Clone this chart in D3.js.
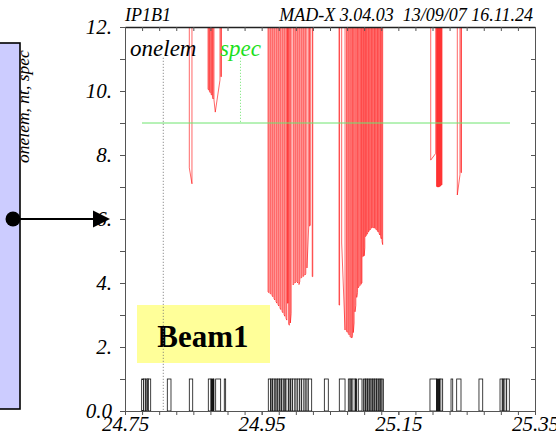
<!DOCTYPE html>
<html>
<head>
<meta charset="utf-8">
<script src="https://cdn.jsdelivr.net/npm/d3@7/dist/d3.min.js"></script>
<style>
  body { margin: 0; background: #fff; }
  svg { display: block; }
  text { font-family: 'Liberation Serif', 'Times New Roman', serif; }
</style>
</head>
<body>
<svg id="chart"></svg>
<script>
// axis setup
const sDomain = [24.75, 25.35];
const vDomain = [0, 12];
const xLabelValues = [24.75, 24.95, 25.15, 25.35];
const xLabelText = ['24.75', '24.95', '25.15', '25.35'];
const xMinorTicks = d3.range(0, 25).map(i => 24.75 + i * 0.025);
const yLabelValues = [0, 2, 4, 6, 8, 10, 12];
const yLabelText = ['0.0', '2.', '4.', '6.', '8.', '10.', '12.'];
const yMinorTicks = [0, 1, 2, 3, 4, 5, 6, 7, 8, 9, 10, 11, 12];

// onelem: element boxes [s start, s end, type]
const onelem = [
  [24.7744, 24.7771, 'w'], [24.7771, 24.7797, 'w'], [24.7797, 24.7826, 'g'],
  [24.7826, 24.7841, 'l'], [24.7841, 24.7876, 'w'],
  [24.8119, 24.8173, 'w'],
  [24.8441, 24.8491, 'w'],
  [24.8719, 24.8759, 'w'], [24.8759, 24.8792, 'k'], [24.8792, 24.8802, 'w'],
  [24.8827, 24.8900, 'w'],
  [24.8953, 24.8973, 'w'],
  [24.9597, 24.9632, 'w'], [24.9632, 24.9661, 'g'], [24.9661, 24.9695, 'l'],
  [24.9695, 24.9729, 'g'], [24.9729, 24.9758, 'l'], [24.9758, 24.9793, 'g'],
  [24.9793, 24.9827, 'l'], [24.9827, 24.9856, 'g'], [24.9856, 24.9890, 'w'],
  [24.9890, 24.9925, 'g'], [24.9925, 24.9954, 'l'], [24.9954, 24.9988, 'w'],
  [24.9988, 25.0021, 'l'], [25.0021, 25.0051, 'w'], [25.0051, 25.0086, 'l'],
  [25.0086, 25.0120, 'w'], [25.0120, 25.0149, 'w'], [25.0149, 25.0182, 'l'],
  [25.0182, 25.0232, 'w'],
  [25.0417, 25.0475, 'w'],
  [25.0636, 25.0720, 'w'],
  [25.0768, 25.0793, 'w'], [25.0793, 25.0822, 'g'], [25.0822, 25.0870, 'l'],
  [25.0870, 25.0891, 'k'], [25.0914, 25.0968, 'w'],
  [25.0987, 25.1022, 'g'], [25.1022, 25.1052, 'g'], [25.1052, 25.1085, 'g'],
  [25.1085, 25.1119, 'g'], [25.1119, 25.1148, 'g'], [25.1148, 25.1183, 'g'],
  [25.1183, 25.1217, 'g'], [25.1217, 25.1246, 'g'], [25.1246, 25.1280, 'g'],
  [25.1963, 25.2061, 'w'], [25.2061, 25.2110, 'k'], [25.2110, 25.2149, 'l'],
  [25.2271, 25.2296, 'w'],
  [25.2354, 25.2417, 'w'],
  [25.2680, 25.2735, 'w'],
  [25.2988, 25.3021, 'w'], [25.3021, 25.3046, 'g'], [25.3046, 25.3086, 'l'],
  [25.3086, 25.3124, 'w']
];

// nt: sections where the value drops below the top of the plot
// each row is s0, v0, s1, v1 (, s2, v2); between rows the value is off scale
const ntDrops = [
  [24.8441, 7.6, 24.8480, 7.1],
  [24.8715, 10.05, 24.8725, 10.03],
  [24.8737, 9.98, 24.8747, 9.95],
  [24.8759, 9.9, 24.8769, 9.87],
  [24.8780, 9.8, 24.8790, 9.75],
  [24.8802, 9.72, 24.8821, 9.34, 24.8890, 10.34],
  [24.8902, 10.45, 24.8912, 10.45],
  [24.9593, 3.72, 24.9605, 3.70],
  [24.9622, 3.68, 24.9634, 3.65],
  [24.9651, 3.62, 24.9663, 3.57],
  [24.9680, 3.52, 24.9692, 3.47],
  [24.9710, 3.42, 24.9722, 3.37],
  [24.9739, 3.33, 24.9751, 3.28],
  [24.9768, 3.22, 24.9780, 3.17],
  [24.9798, 3.12, 24.9810, 3.07],
  [24.9827, 3.02, 24.9839, 2.96],
  [24.9856, 2.90, 24.9868, 2.84],
  [24.9878, 3.37, 24.9886, 3.37],
  [24.9895, 2.72, 24.9905, 2.68],
  [24.9920, 2.75, 24.9932, 3.05],
  [24.9959, 3.94, 24.9971, 3.97],
  [24.9988, 4.00, 25.0000, 4.04],
  [25.0017, 4.04, 25.0029, 4.00],
  [25.0046, 3.95, 25.0058, 4.05],
  [25.0076, 4.15, 25.0088, 4.18],
  [25.0105, 4.20, 25.0117, 4.22],
  [25.0134, 4.25, 25.0146, 4.30],
  [25.0163, 4.47, 25.0188, 5.75],
  [25.0200, 5.78, 25.0212, 5.80],
  [25.0240, 4.20, 25.0248, 4.20],
  [25.0632, 3.31, 25.0640, 3.31],
  [25.0671, 5.25, 25.0720, 2.53],
  [25.0741, 2.50, 25.0753, 2.46],
  [25.0768, 2.42, 25.0780, 2.38],
  [25.0793, 2.33, 25.0805, 2.30],
  [25.0818, 2.28, 25.0830, 2.35],
  [25.0841, 2.45, 25.0853, 2.75],
  [25.0866, 3.10, 25.0878, 3.30],
  [25.0891, 3.55, 25.0903, 3.70],
  [25.0914, 3.85, 25.0926, 3.90],
  [25.0939, 3.92, 25.0951, 3.95],
  [25.0958, 3.98, 25.0968, 4.00],
  [25.0979, 4.82, 25.0991, 4.84],
  [25.1000, 4.85, 25.1010, 5.10],
  [25.1020, 5.45, 25.1032, 5.48],
  [25.1041, 5.52, 25.1053, 5.56],
  [25.1063, 5.60, 25.1075, 5.63],
  [25.1085, 5.66, 25.1097, 5.69],
  [25.1107, 5.72, 25.1119, 5.73],
  [25.1129, 5.73, 25.1141, 5.73],
  [25.1151, 5.72, 25.1163, 5.70],
  [25.1173, 5.68, 25.1185, 5.65],
  [25.1195, 5.62, 25.1207, 5.59],
  [25.1217, 5.56, 25.1229, 5.50],
  [25.1239, 5.45, 25.1251, 5.38],
  [25.1261, 5.30, 25.1271, 5.20],
  [25.1974, 7.84, 25.2047, 8.05],
  [25.2059, 7.02, 25.2066, 7.01],
  [25.2073, 7.00, 25.2080, 7.00],
  [25.2088, 7.00, 25.2095, 7.00],
  [25.2102, 7.01, 25.2109, 7.02],
  [25.2117, 7.03, 25.2124, 7.04],
  [25.2132, 7.06, 25.2139, 7.08],
  [25.2363, 6.75, 25.2402, 7.38],
  [25.2417, 7.45, 25.2424, 7.45]
];
const ntOffScale = 13;

// spec: flat value over the range
const specS = [24.7749, 25.3134];
const specV = [9.0, 9.0];

// curve labels: name, centre s, value where the leader ends
const labelNames = ['onelem', 'spec'];
const labelS = [24.806, 24.919];
const labelLeaderEnd = [0, 9];
const labelTop = 11.1;

const cfg = {
  W: 556, H: 439,
  left: 125, right: 535, top: 27, bottom: 411,
  red: '#ff0000',
  green: '#1edf1e',
  greenLine: '#6ee46e',
  axisColor: '#555',
  tickFont: '21px',
  boxFill: '#ccccff',
  beamFill: '#ffff99'
};

const svg = d3.select('#chart').attr('width', cfg.W).attr('height', cfg.H);

const x = d3.scaleLinear().domain(sDomain).range([cfg.left, cfg.right]);
const y = d3.scaleLinear().domain(vDomain).range([cfg.bottom, cfg.top]);

// left side: vertical axis title, lavender box, arrow
svg.append('text')
  .attr('transform', 'translate(28.5,163) rotate(-90)')
  .style('font-size', '17.5px')
  .style('font-style', 'italic')
  .text('onelem, nt, spec');

svg.append('rect')
  .attr('x', -2).attr('y', 43)
  .attr('width', 22).attr('height', 366)
  .attr('fill', cfg.boxFill)
  .attr('stroke', '#000')
  .attr('stroke-width', 1.6);

// clip for plot area
svg.append('clipPath').attr('id', 'plotClip')
  .append('rect')
  .attr('x', cfg.left).attr('y', cfg.top)
  .attr('width', cfg.right - cfg.left).attr('height', cfg.bottom - cfg.top);

const plot = svg.append('g').attr('clip-path', 'url(#plotClip)');

// Beam1 tag
svg.append('rect')
  .attr('x', 137).attr('y', 305)
  .attr('width', 133).attr('height', 58)
  .attr('fill', cfg.beamFill);
svg.append('text')
  .attr('x', 203).attr('y', 347)
  .attr('text-anchor', 'middle')
  .style('font-size', '31px')
  .style('font-weight', 'bold')
  .text('Beam1');

// element boxes
const elemFill = d3.scaleOrdinal()
  .domain(['w', 'l', 'g', 'k'])
  .range(['#ffffff', '#c8c8c8', '#8c8c8c', '#1a1a1a']);

plot.selectAll('.elem')
  .data(onelem)
  .enter()
  .append('rect')
  .attr('x', d => x(d[0]))
  .attr('width', d => x(d[1]) - x(d[0]))
  .attr('y', y(1))
  .attr('height', y(0) - y(1))
  .attr('fill', d => elemFill(d[2]))
  .attr('stroke', '#111')
  .attr('stroke-width', 0.8);

// nt drops
const line = d3.line().x(d => x(d[0])).y(d => y(d[1]));
plot.selectAll('.drop')
  .data(ntDrops)
  .enter()
  .append('path')
  .attr('d', d => {
    const pts = [];
    for (let i = 0; i < d.length; i += 2) pts.push([d[i], d[i + 1]]);
    return line([[pts[0][0], ntOffScale], ...pts, [pts[pts.length - 1][0], ntOffScale]]);
  })
  .attr('fill', 'none')
  .attr('stroke', cfg.red)
  .attr('stroke-width', 0.6);

// spec line
plot.append('path')
  .attr('d', line(specS.map((s, i) => [s, specV[i]])))
  .attr('fill', 'none')
  .attr('stroke', cfg.greenLine)
  .attr('stroke-width', 1);

// labels and dotted leaders
const labelColor = [ '#000', cfg.green ];
labelNames.forEach((name, i) => {
  svg.append('text')
    .attr('x', x(labelS[i]))
    .attr('y', y(labelTop))
    .attr('text-anchor', 'middle')
    .style('font-size', '23px')
    .style('font-style', 'italic')
    .attr('fill', labelColor[i])
    .text(name);
  svg.append('line')
    .attr('x1', x(labelS[i])).attr('x2', x(labelS[i]))
    .attr('y1', y(labelTop) + 2).attr('y2', y(labelLeaderEnd[i]))
    .attr('stroke', i === 0 ? '#777' : cfg.greenLine)
    .attr('stroke-width', 1)
    .attr('stroke-dasharray', '1,2');
});

// axes
function styleAxis(g) {
  g.select('.domain').attr('stroke', cfg.axisColor);
  g.selectAll('.tick line').attr('stroke', cfg.axisColor);
  g.selectAll('.tick text')
    .attr('fill', '#000')
    .style('font-size', cfg.tickFont)
    .style('font-style', 'italic')
    .style('font-family', "'Liberation Serif', 'Times New Roman', serif");
}

svg.append('g')
  .attr('transform', `translate(${cfg.left},0)`)
  .call(d3.axisLeft(y).tickValues(yMinorTicks).tickSize(5).tickSizeOuter(0).tickFormat(''))
  .call(styleAxis);
svg.append('g')
  .attr('transform', `translate(${cfg.left},0)`)
  .call(d3.axisLeft(y).tickValues(yLabelValues).tickSize(5).tickSizeOuter(0).tickPadding(8)
    .tickFormat((d, i) => yLabelText[i]))
  .call(styleAxis)
  .call(g => g.select('.domain').remove());

svg.append('g')
  .attr('transform', `translate(${cfg.right},0)`)
  .call(d3.axisRight(y).tickValues(yMinorTicks).tickSize(-4).tickSizeOuter(0).tickFormat(''))
  .call(styleAxis);

svg.append('g')
  .attr('transform', `translate(0,${cfg.top})`)
  .call(d3.axisTop(x).tickValues(xMinorTicks).tickSize(-4).tickSizeOuter(0).tickFormat(''))
  .call(styleAxis)
  .call(g => g.select('.domain').attr('stroke', '#222').attr('stroke-width', 1.3));

svg.append('g')
  .attr('transform', `translate(0,${cfg.bottom})`)
  .call(d3.axisBottom(x).tickValues(xMinorTicks).tickSize(4).tickSizeOuter(0).tickFormat(''))
  .call(styleAxis);
svg.append('g')
  .attr('transform', `translate(0,${cfg.bottom})`)
  .call(d3.axisBottom(x).tickValues(xLabelValues).tickSize(4).tickSizeOuter(0).tickPadding(1)
    .tickFormat((d, i) => xLabelText[i]))
  .call(styleAxis)
  .call(g => g.select('.domain').remove());

// header
svg.append('text')
  .attr('x', cfg.left).attr('y', 21)
  .style('font-size', '18px').style('font-style', 'italic')
  .text('IP1B1');
svg.append('text')
  .attr('x', 533).attr('y', 21)
  .attr('text-anchor', 'end')
  .style('font-size', '18px').style('font-style', 'italic')
  .style('white-space', 'pre')
  .text('MAD-X 3.04.03  13/09/07 16.11.24');

// arrow into the plot
svg.append('line')
  .attr('x1', 13).attr('x2', 95)
  .attr('y1', 219).attr('y2', 219)
  .attr('stroke', '#000').attr('stroke-width', 2);
svg.append('path')
  .attr('d', 'M93,210.5L110,219L93,227.5Z')
  .attr('fill', '#000');
svg.append('circle')
  .attr('cx', 13).attr('cy', 219).attr('r', 7.5)
  .attr('fill', '#000');
</script>
</body>
</html>
